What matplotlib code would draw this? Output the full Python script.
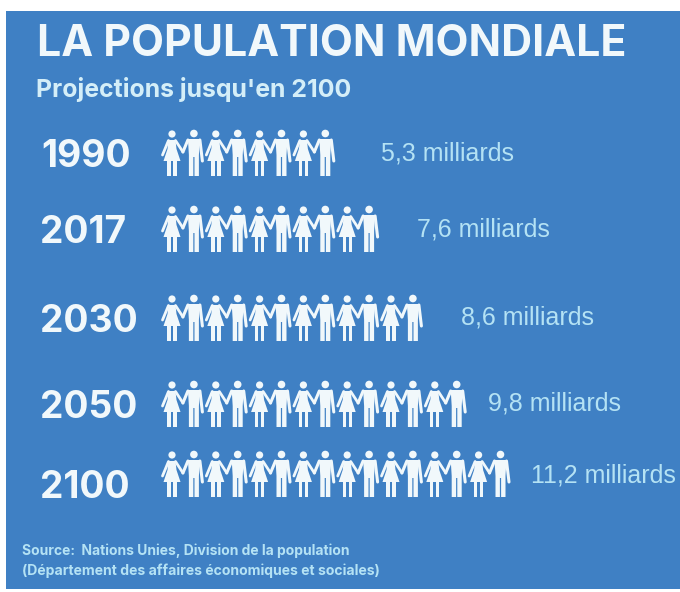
#!/usr/bin/env python3

import matplotlib
matplotlib.use("Agg")
import matplotlib.pyplot as plt
from matplotlib.patches import Circle, Polygon, Rectangle

# Data
years = ["1990", "2017", "2030", "2050", "2100"]
value_labels = ["5,3 milliards", "7,6 milliards", "8,6 milliards", "9,8 milliards", "11,2 milliards"]
people_counts = [8, 10, 12, 14, 16]

# Layout, in reference pixels
row_tops = [130, 206, 295, 381, 451]
year_x = [41, 40, 40, 40, 40]
year_y = [157, 233, 322, 408, 488]
value_x = [381, 417, 461, 488, 531]
value_y = [153, 229, 318, 404, 475]
icons_x = 172
icon_step = 21.9

BLUE = "#3f80c4"
WHITE = "#f1f8fb"
PALE = "#b4e2f4"
BODY_FONT = "Liberation Sans"
HEAD_FONT = "Inter"

fig = plt.figure(figsize=(6.8, 5.92), dpi=100, facecolor="white")
ax = fig.add_axes([0, 0, 1, 1])
ax.set_xlim(0, 680)
ax.set_ylim(592, 0)
ax.axis("off")

ax.add_patch(Rectangle((6, 11), 674, 578, facecolor=BLUE, edgecolor="none"))


def draw_woman(x, top):
    ax.add_patch(Circle((x, top + 4), 3.6, color=WHITE, lw=0))
    dress = [(x - 3.5, top + 10), (x + 3.5, top + 10), (x + 4.5, top + 19), (x + 8.5, top + 31),
             (x - 8.5, top + 31), (x - 4.5, top + 19)]
    ax.add_patch(Polygon(dress, color=WHITE, lw=0))
    ax.plot([x - 3.5, x - 9.5], [top + 10.5, top + 25], color=WHITE, lw=2, solid_capstyle="round")
    ax.plot([x + 3.5, x + 11], [top + 10.5, top + 22], color=WHITE, lw=2, solid_capstyle="round")
    for dx in (-3.0, 3.0):
        ax.add_patch(Rectangle((x + dx - 1.7, top + 30), 3.4, 16, color=WHITE, lw=0))


def draw_man(x, top):
    ax.add_patch(Circle((x, top + 3.5), 3.8, color=WHITE, lw=0))
    body = [(x - 6, top + 9), (x + 6, top + 9), (x + 5, top + 25), (x + 5, top + 46),
            (x + 0.6, top + 46), (x + 0.6, top + 27), (x - 0.6, top + 27), (x - 0.6, top + 46),
            (x - 5, top + 46), (x - 5, top + 25)]
    ax.add_patch(Polygon(body, color=WHITE, lw=0))
    ax.plot([x - 6, x - 11], [top + 10, top + 22], color=WHITE, lw=2.2, solid_capstyle="round")
    ax.plot([x + 6, x + 8.5], [top + 10, top + 31], color=WHITE, lw=2.2, solid_capstyle="round")


# Pictogram rows, alternating woman and man
for count, top in zip(people_counts, row_tops):
    for i in range(count):
        x = icons_x + i * icon_step
        if i % 2 == 0:
            draw_woman(x, top)
        else:
            draw_man(x, top)

for year, x, y in zip(years, year_x, year_y):
    ax.text(x, y, year, color=WHITE, fontsize=26.8, fontweight="bold", family=HEAD_FONT, va="center", ha="left")

for label, x, y in zip(value_labels, value_x, value_y):
    ax.text(x, y, label, color=PALE, fontsize=18, family=BODY_FONT, va="center", ha="left")

ax.text(37, 45, "LA POPULATION MONDIALE", color=WHITE, fontsize=30.8, fontweight="bold", family=HEAD_FONT, va="center", ha="left")
ax.text(36, 90, "Projections jusqu'en 2100", color="#d4eef8", fontsize=17.9, fontweight="bold", family=HEAD_FONT, va="center", ha="left")
ax.text(22, 551, "Source:  Nations Unies, Division de la population", color=PALE, fontsize=10, fontweight="bold", family=HEAD_FONT, va="center", ha="left")
ax.text(22, 571, "(Département des affaires économiques et sociales)", color=PALE, fontsize=10.1, fontweight="bold", family=HEAD_FONT, va="center", ha="left")

fig.savefig("out.png", dpi=100)
